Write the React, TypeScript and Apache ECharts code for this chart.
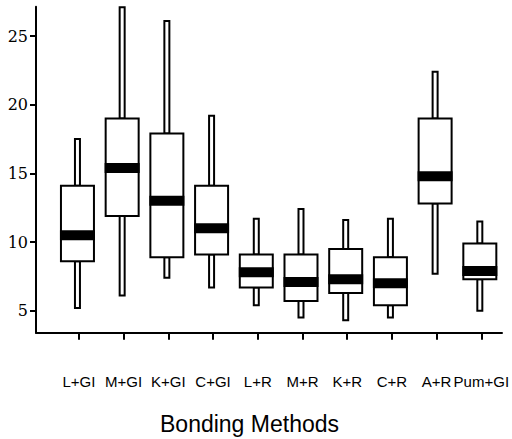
import React, { useEffect, useRef } from "react";
import * as echarts from "echarts";

const categories = ["L+GI", "M+GI", "K+GI", "C+GI", "L+R", "M+R", "K+R", "C+R", "A+R", "Pum+GI"];
const whiskerLow = [5.2, 6.1, 7.4, 6.7, 5.4, 4.5, 4.3, 4.5, 7.7, 5.0];
const quartile1 = [8.6, 11.9, 8.9, 9.1, 6.7, 5.7, 6.3, 5.4, 12.8, 7.3];
const medians = [10.5, 15.4, 13.0, 11.0, 7.8, 7.1, 7.3, 7.0, 14.8, 7.9];
const quartile3 = [14.1, 19.0, 17.9, 14.1, 9.1, 9.1, 9.5, 8.9, 19.0, 9.9];
const whiskerHigh = [17.5, 27.1, 26.1, 19.2, 11.7, 12.4, 11.6, 11.7, 22.4, 11.5];
const yTicks = [5, 10, 15, 20, 25];
const xTitle = "Bonding Methods";

const Y_MIN = 3.4;
const Y_MAX = 27.14;

export default function App() {
  const ref = useRef<HTMLDivElement>(null);
  useEffect(() => {
    document.body.style.margin = "0";
    const chart = echarts.init(ref.current!, null, { renderer: "svg" });
    const rows = categories.map((_, i) => [
      i,
      whiskerLow[i],
      quartile1[i],
      medians[i],
      quartile3[i],
      whiskerHigh[i],
    ]);
    const stroke = { fill: "#fff", stroke: "#000", lineWidth: 2 };
    const grid = { top: 6.7, height: 326 };
    chart.setOption({
      animation: false,
      backgroundColor: "#fff",
      title: {
        text: xTitle,
        left: 160,
        top: 412,
        padding: 0,
        textStyle: {
          fontFamily: "Liberation Sans, Arial, sans-serif",
          fontSize: 23,
          fontWeight: "normal",
          color: "#000",
        },
      },
      grid: [
        { left: 36, width: 466, ...grid },
        { left: 56.6, width: 448, ...grid },
      ],
      xAxis: [
        {
          type: "value",
          gridIndex: 0,
          min: 0,
          max: 1,
          axisLine: { show: true, lineStyle: { color: "#000", width: 2 } },
          axisTick: { show: false },
          axisLabel: { show: false },
          splitLine: { show: false },
        },
        {
          type: "category",
          gridIndex: 1,
          data: categories,
          axisLine: { show: false },
          axisTick: {
            show: true,
            alignWithLabel: true,
            length: 7,
            lineStyle: { color: "#000", width: 2 },
          },
          axisLabel: {
            margin: 41,
            interval: 0,
            color: "#000",
            fontSize: 15,
            fontFamily: "Liberation Sans, Arial, sans-serif",
          },
        },
      ],
      yAxis: [
        {
          type: "value",
          gridIndex: 0,
          min: Y_MIN,
          max: Y_MAX,
          axisLine: { show: true, lineStyle: { color: "#000", width: 2 } },
          axisTick: {
            show: true,
            length: 6,
            customValues: yTicks,
            lineStyle: { color: "#000", width: 2 },
          },
          axisLabel: {
            show: true,
            showMinLabel: false,
            showMaxLabel: false,
            margin: 8,
            color: "#000",
            fontSize: 16,
            fontFamily: "DejaVu Serif, Liberation Serif, serif",
            formatter: (v: number) => (yTicks.indexOf(Math.round(v * 1000) / 1000) >= 0 ? String(v) : ""),
          },
          splitLine: { show: false },
        },
        {
          type: "value",
          gridIndex: 1,
          min: Y_MIN,
          max: Y_MAX,
          show: false,
        },
      ],
      series: [
        {
          type: "custom",
          xAxisIndex: 1,
          yAxisIndex: 1,
          clip: false,
          data: rows,
          encode: { x: 0, y: [1, 2, 3, 4, 5] },
          renderItem: (params: any, api: any) => {
            const i = api.value(0);
            const lo = api.coord([i, api.value(1)]);
            const q1 = api.coord([i, api.value(2)]);
            const md = api.coord([i, api.value(3)]);
            const q3 = api.coord([i, api.value(4)]);
            const hi = api.coord([i, api.value(5)]);
            const cx = lo[0] - 1.5;
            const bw = 33;
            const ww = 5;
            const mh = 10;
            return {
              type: "group",
              children: [
                {
                  type: "rect",
                  shape: { x: cx - ww / 2, y: hi[1], width: ww, height: q3[1] - hi[1] },
                  style: stroke,
                },
                {
                  type: "rect",
                  shape: { x: cx - ww / 2, y: q1[1], width: ww, height: lo[1] - q1[1] },
                  style: stroke,
                },
                {
                  type: "rect",
                  shape: { x: cx - bw / 2, y: q3[1], width: bw, height: q1[1] - q3[1] },
                  style: stroke,
                },
                {
                  type: "rect",
                  shape: { x: cx - bw / 2 - 1, y: md[1] - mh / 2, width: bw + 2, height: mh },
                  style: { fill: "#000" },
                },
              ],
            };
          },
        },
      ],
    });
    return () => chart.dispose();
  }, []);
  return <div ref={ref} style={{ width: 512, height: 439 }} />;
}
